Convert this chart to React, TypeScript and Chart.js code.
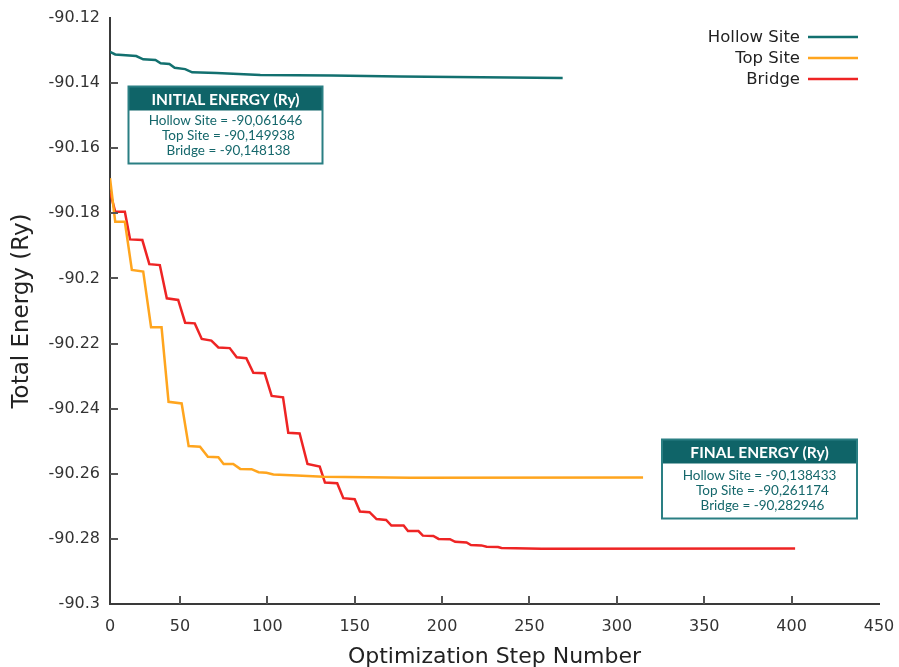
import React, { useEffect, useRef } from 'react';
import { Chart, registerables } from 'chart.js';

Chart.register(...registerables);

// ---------- data ----------
const seriesLabels = ['Hollow Site', 'Top Site', 'Bridge'];
const seriesColors = ['#12706f', '#ffa51e', '#ee2424'];

const hollowSteps = [10, 13, 25, 29, 36, 39, 44, 47, 53, 57, 71, 96, 137, 176, 269];
const hollowEnergy = [-90.1304, -90.1312, -90.1317, -90.1327, -90.1329, -90.1339, -90.1341, -90.1353, -90.1357, -90.1367, -90.1369, -90.1375, -90.1377, -90.138, -90.138433];

const topSteps = [10, 13, 18.5, 22.5, 29, 33.5, 39.5, 43.5, 51, 55, 61.5, 66, 72, 75, 80.5, 84.5, 91, 95, 99.5, 103.5, 117, 132, 182, 315];
const topEnergy = [-90.1692, -90.1826, -90.1826, -90.1974, -90.1979, -90.215, -90.215, -90.2379, -90.2384, -90.2515, -90.2517, -90.2548, -90.2549, -90.257, -90.257, -90.2585, -90.2586, -90.2595, -90.2597, -90.2602, -90.2605, -90.2609, -90.2612, -90.261174];

const bridgeSteps = [10, 13, 18.5, 21.5, 28.5, 32.5, 38.5, 42.5, 49, 53, 58.5, 62.5, 68, 72, 78.5, 82.5, 88, 92, 98.5, 102.5, 109, 112, 118.5, 123, 130, 133, 140, 143.5, 150, 153, 158.5, 162.5, 168, 171, 178, 180.5, 186.5, 189, 195, 198, 204.5, 207.5, 214, 216.5, 222.5, 225.5, 232, 234, 242, 257, 402];
const bridgeEnergy = [-90.1734, -90.1795, -90.1795, -90.188, -90.1882, -90.1956, -90.1959, -90.2061, -90.2066, -90.2136, -90.2138, -90.2186, -90.2191, -90.2212, -90.2214, -90.2242, -90.2245, -90.229, -90.2291, -90.2361, -90.2365, -90.2474, -90.2476, -90.257, -90.2578, -90.2627, -90.2629, -90.2675, -90.2678, -90.2716, -90.2718, -90.2739, -90.2742, -90.2759, -90.2759, -90.2776, -90.2776, -90.279, -90.2791, -90.28, -90.2801, -90.2809, -90.2811, -90.2819, -90.282, -90.2824, -90.2825, -90.2828, -90.2829, -90.283, -90.282946];

const xTickValues = [10, 50, 100, 150, 200, 250, 300, 350, 400, 450];
const xTickLabels = ['0', '50', '100', '150', '200', '250', '300', '350', '400', '450'];
const yTickValues = [-90.12, -90.14, -90.16, -90.18, -90.2, -90.22, -90.24, -90.26, -90.28, -90.3];
const yTickLabels = ['-90.12', '-90.14', '-90.16', '-90.18', '-90.2', '-90.22', '-90.24', '-90.26', '-90.28', '-90.3'];

const xTitle = 'Optimization Step Number';
const yTitle = 'Total Energy (Ry)';

const initialTitle = 'INITIAL ENERGY (Ry)';
const initialLines = ['Hollow Site = -90,061646', 'Top Site = -90,149938', 'Bridge = -90,148138'];
const finalTitle = 'FINAL ENERGY (Ry)';
const finalLines = ['Hollow Site = -90,138433', 'Top Site = -90,261174', 'Bridge = -90,282946'];

// ---------- drawing helpers ----------
const TEAL = '#0f6468';
const TEAL_TEXT = '#15676b';

function drawBox(ctx: CanvasRenderingContext2D, left: number, top: number, w: number, h: number, headerH: number, title: string, lines: string[], firstLine: number) {
  ctx.save();
  ctx.fillStyle = '#ffffff';
  ctx.fillRect(left, top, w, h);
  ctx.fillStyle = TEAL;
  ctx.fillRect(left, top, w, headerH);
  ctx.strokeStyle = '#2a7f83';
  ctx.lineWidth = 2;
  ctx.strokeRect(left, top, w, h);
  ctx.textAlign = 'center';
  ctx.textBaseline = 'middle';
  ctx.fillStyle = '#ffffff';
  ctx.font = 'bold 15.5px Lato';
  ctx.fillText(title, left + w / 2, top + headerH / 2 + 1);
  ctx.fillStyle = TEAL_TEXT;
  ctx.font = '13.5px Lato';
  lines.forEach((t, i) => {
    ctx.fillText(t, left + w / 2 + (i === 0 ? 0 : 3), top + firstLine + i * 15);
  });
  ctx.restore();
}

const overlayPlugin = {
  id: 'overlay',
  afterDraw(chart: any) {
    const { ctx, chartArea, scales } = chart;
    const xs = scales.x;
    const ys = scales.y;
    ctx.save();
    // inward tick marks
    ctx.strokeStyle = '#555555';
    ctx.lineWidth = 2;
    yTickValues.forEach((v, i) => {
      if (i === 0 || i === yTickValues.length - 1) return;
      const py = Math.round(ys.getPixelForValue(v));
      ctx.beginPath();
      ctx.moveTo(chartArea.left, py);
      ctx.lineTo(chartArea.left + 8, py);
      ctx.stroke();
    });
    xTickValues.forEach((v, i) => {
      if (i === 0 || i === xTickValues.length - 1) return;
      const px = Math.round(xs.getPixelForValue(v));
      ctx.beginPath();
      ctx.moveTo(px, chartArea.bottom);
      ctx.lineTo(px, chartArea.bottom - 8);
      ctx.stroke();
    });
    // legend
    ctx.font = '16.5px "DejaVu Sans"';
    ctx.textAlign = 'right';
    ctx.textBaseline = 'middle';
    chart.data.datasets.forEach((ds: any, i: number) => {
      const y = 37 + i * 21;
      ctx.fillStyle = '#222222';
      ctx.fillText(ds.label, 800, y + 1);
      ctx.strokeStyle = ds.borderColor;
      ctx.lineWidth = 2.5;
      ctx.beginPath();
      ctx.moveTo(808, y);
      ctx.lineTo(858, y);
      ctx.stroke();
    });
    ctx.restore();
    // annotation boxes
    drawBox(ctx, 128.5, 86.5, 194, 77, 24, initialTitle, initialLines, 34);
    drawBox(ctx, 662, 439.5, 195, 79, 24, finalTitle, finalLines, 36);
  },
};

function toPoints(xs: number[], ys: number[]) {
  return xs.map((x, i) => ({ x, y: ys[i] }));
}

export default function App() {
  const canvasRef = useRef<HTMLCanvasElement | null>(null);

  useEffect(() => {
    document.body.style.margin = '0';
    document.body.style.overflow = 'hidden';
    const canvas = canvasRef.current;
    if (!canvas) return;
    const datasets = [
      toPoints(hollowSteps, hollowEnergy),
      toPoints(topSteps, topEnergy),
      toPoints(bridgeSteps, bridgeEnergy),
    ].map((data, i) => ({
      label: seriesLabels[i],
      data,
      borderColor: seriesColors[i],
      backgroundColor: seriesColors[i],
      borderWidth: 2.5,
      pointRadius: 0,
      tension: 0,
      fill: false,
    }));

    const chart = new Chart(canvas, {
      type: 'line',
      data: { datasets },
      options: {
        animation: false,
        responsive: true,
        maintainAspectRatio: false,
        parsing: false as any,
        layout: { padding: { left: 0, top: 18, right: 20, bottom: 0 } },
        plugins: {
          legend: { display: false },
          tooltip: { enabled: false },
        },
        scales: {
          x: {
            type: 'linear',
            min: 10,
            max: 450,
            grid: { display: false, drawTicks: false },
            border: { display: true, color: '#3a3a3a', width: 2 },
            afterBuildTicks: (scale: any) => {
              scale.ticks = xTickValues.map((v) => ({ value: v }));
            },
            afterFit: (scale: any) => {
              scale.height = 76;
              scale.paddingLeft = 0;
              scale.paddingRight = 0;
            },
            ticks: {
              autoSkip: false,
              maxRotation: 0,
              padding: 13,
              color: '#333333',
              font: { family: 'DejaVu Sans', size: 16 },
              callback: (v: any) => {
                const idx = xTickValues.indexOf(Number(v));
                return idx >= 0 ? xTickLabels[idx] : '';
              },
            },
            title: {
              display: true,
              text: xTitle,
              color: '#222222',
              font: { family: 'DejaVu Sans', size: 22 },
              padding: { top: 0, bottom: 10 },
            },
          },
          y: {
            type: 'linear',
            min: -90.3,
            max: -90.12,
            grid: { display: false, drawTicks: false },
            border: { display: true, color: '#3a3a3a', width: 2 },
            afterBuildTicks: (scale: any) => {
              scale.ticks = yTickValues.map((v) => ({ value: v }));
            },
            afterFit: (scale: any) => {
              scale.width = 110;
              scale.paddingTop = 0;
              scale.paddingBottom = 0;
            },
            ticks: {
              autoSkip: false,
              padding: 10,
              color: '#333333',
              font: { family: 'DejaVu Sans', size: 16 },
              callback: (v: any) => {
                let best = 0;
                yTickValues.forEach((t, i) => {
                  if (Math.abs(t - Number(v)) < Math.abs(yTickValues[best] - Number(v))) best = i;
                });
                return yTickLabels[best];
              },
            },
            title: {
              display: true,
              text: yTitle,
              color: '#222222',
              font: { family: 'DejaVu Sans', size: 23 },
              padding: { top: 8, bottom: 0 },
            },
          },
        },
      },
      plugins: [overlayPlugin],
    });
    return () => chart.destroy();
  }, []);

  return (
    <div style={{ width: 899, height: 680, position: 'relative' }}>
      <canvas ref={canvasRef} />
    </div>
  );
}
